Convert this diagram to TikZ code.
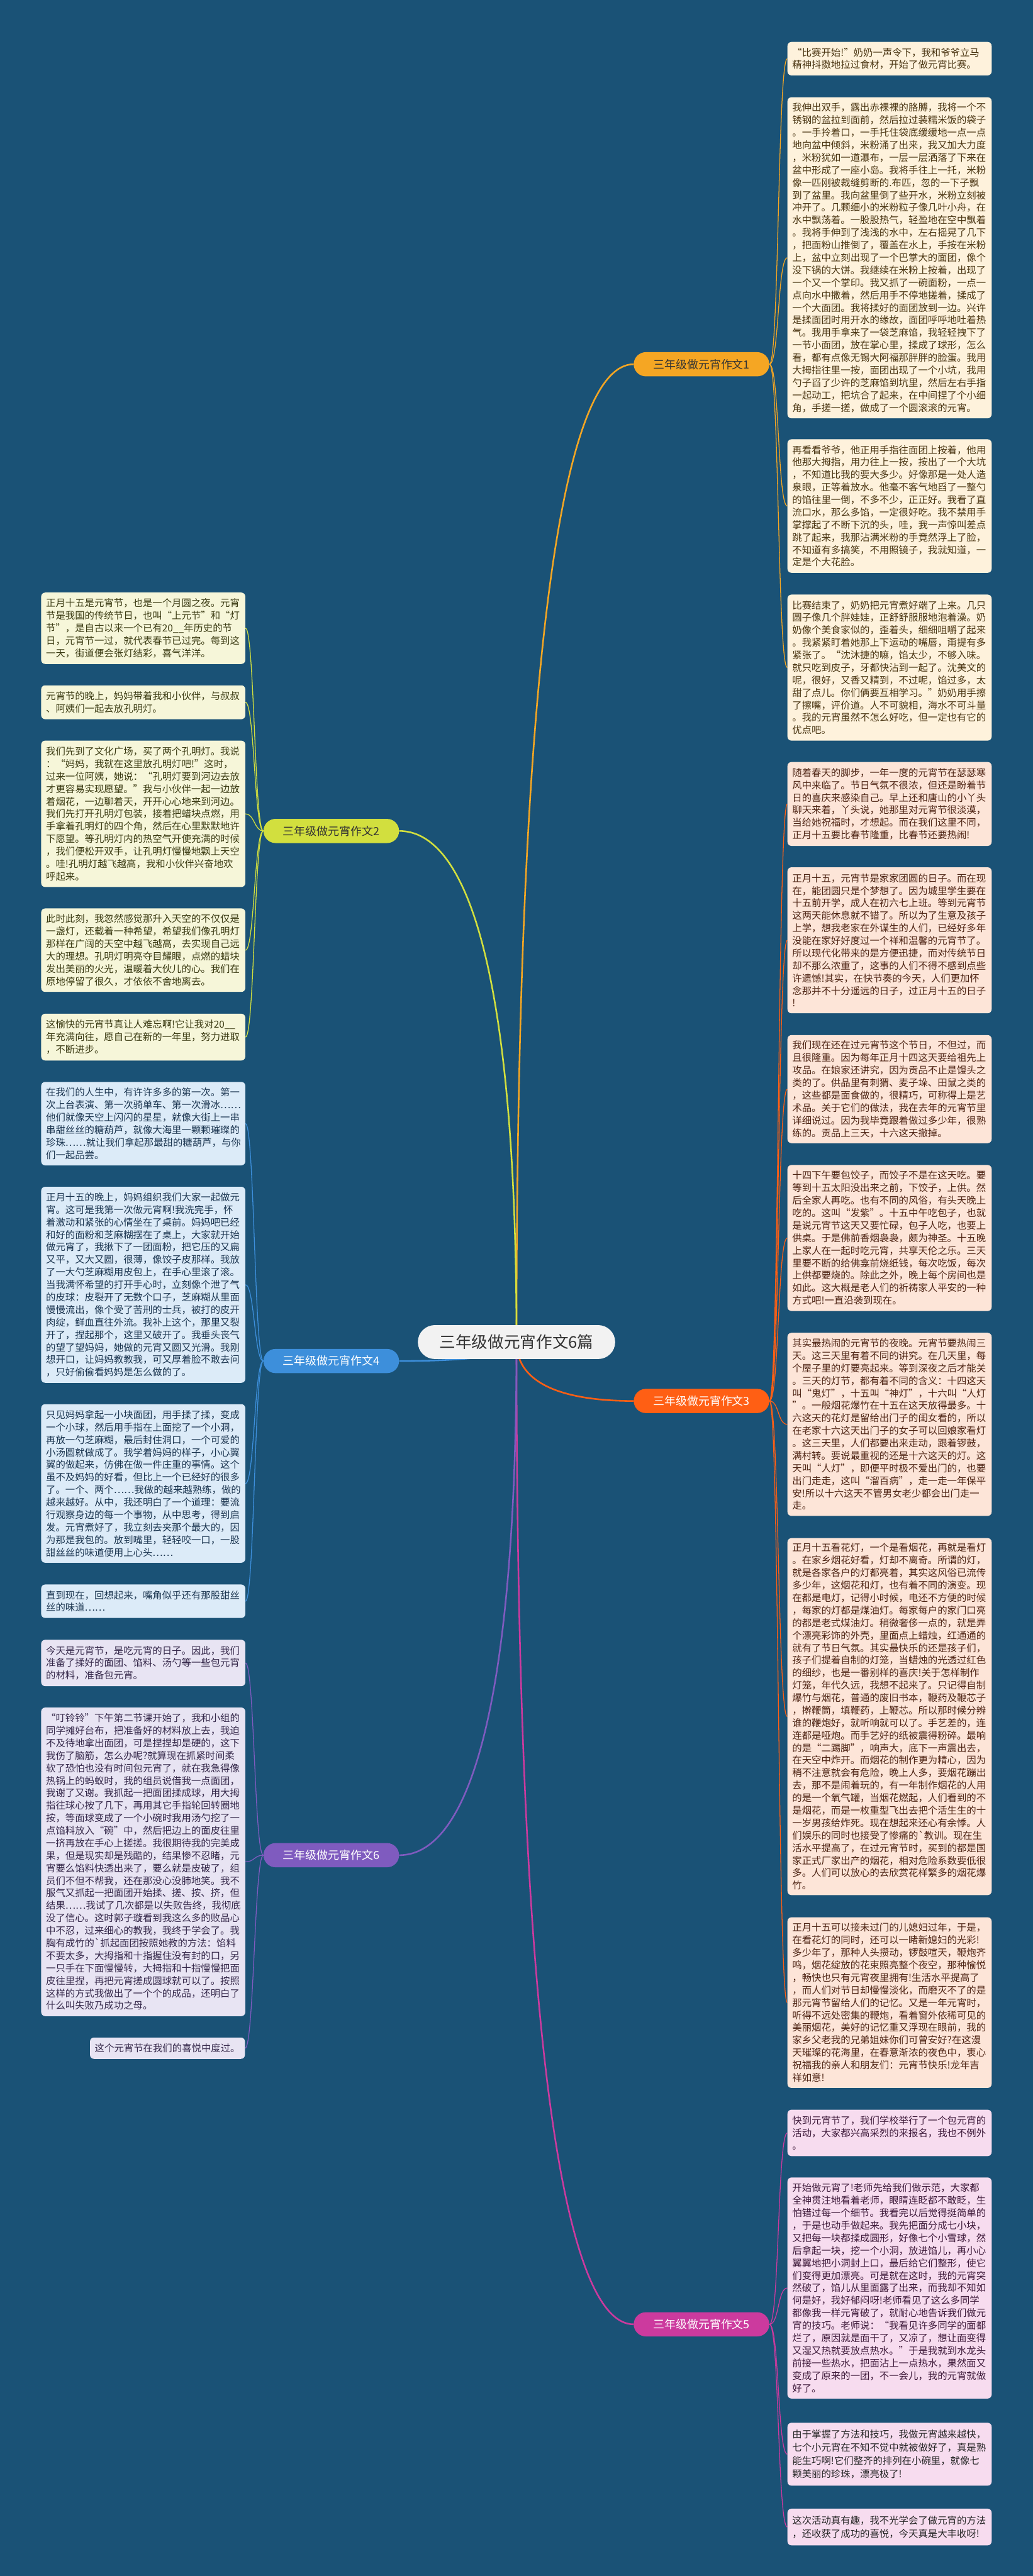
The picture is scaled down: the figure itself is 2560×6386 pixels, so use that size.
\documentclass[tikz,border=0pt]{standalone}
\usepackage{fontspec}
\setmainfont{Noto Sans CJK SC}
\definecolor{bgc}{HTML}{1A5276}
\definecolor{cA}{HTML}{F5A623}
\definecolor{cB}{HTML}{FF5F14}
\definecolor{cC}{HTML}{CC3A9E}
\definecolor{cD}{HTML}{D2DF3E}
\definecolor{cE}{HTML}{3D8FDB}
\definecolor{cF}{HTML}{7F5BBF}
\definecolor{fA}{HTML}{FEF2DC}
\definecolor{fB}{HTML}{FDE5D8}
\definecolor{fC}{HTML}{F7DCEF}
\definecolor{fD}{HTML}{F6F6D9}
\definecolor{fE}{HTML}{DCEBF8}
\definecolor{fF}{HTML}{E8E4F3}
\definecolor{tA}{HTML}{4A3512}
\definecolor{tB}{HTML}{4E2414}
\definecolor{tC}{HTML}{3E1A3A}
\definecolor{tD}{HTML}{3A3A12}
\definecolor{tE}{HTML}{1B3550}
\definecolor{tF}{HTML}{35284A}
\pgfdeclarelayer{lines}
\pgfsetlayers{lines,main}
\tikzset{
  tbox/.style={rounded corners=5pt, inner xsep=6pt, inner ysep=0pt, text width=241pt, align=left,
    font=\fontsize{12pt}{15.5pt}\selectfont, anchor=center},
  boxA/.style={tbox, fill=fA, text=tA},
  boxB/.style={tbox, fill=fB, text=tB},
  boxC/.style={tbox, fill=fC, text=tC},
  boxD/.style={tbox, fill=fD, text=tD},
  boxE/.style={tbox, fill=fE, text=tE},
  boxF/.style={tbox, fill=fF, text=tF},
  pill/.style={rounded corners=15pt, minimum width=168pt, minimum height=30pt, inner sep=0pt,
    font=\fontsize{14pt}{14pt}\selectfont},
  mainline/.style={line width=2pt},
  subline/.style={line width=1pt},
}
\begin{document}
\begin{tikzpicture}[x=0.5pt,y=-0.5pt]
\useasboundingbox (0,0) rectangle (2560,6386);
\begin{pgfonlayer}{lines}
\fill[bgc] (0,0) rectangle (2560,6386);
\end{pgfonlayer}

% centre
\coordinate (c0) at (1280,3327);
\node[rounded corners=21pt, fill=white!95!black, text=black!80, minimum width=244.5pt, minimum height=42pt,
  inner sep=0pt, font=\fontsize{20pt}{20pt}\selectfont] (ctr) at (1280,3327) {三年级做元宵作文6篇};

% branch pills
\node[pill, fill=cA, text=black!80] (p1) at (1738.5,903) {三年级做元宵作文1};
\node[pill, fill=cB, text=white] (p3) at (1738.5,3473) {三年级做元宵作文3};
\node[pill, fill=cC, text=white] (p5) at (1738.5,5762) {三年级做元宵作文5};
\node[pill, fill=cD, text=black!80] (p2) at (821,2060) {三年级做元宵作文2};
\node[pill, fill=cE, text=white] (p4) at (821,3374) {三年级做元宵作文4};
\node[pill, fill=cF, text=white] (p6) at (821,4599) {三年级做元宵作文6};

% ---------- 作文1 ----------
\node[boxA, minimum height=41.5pt] (r1) at (2204.5,145.5) {“比赛开始!”奶奶一声令下，我和爷爷立马\\精神抖擞地拉过食材，开始了做元宵比赛。};
\node[boxA, minimum height=398pt] (r2) at (2204.5,639) {我伸出双手，露出赤裸裸的胳膊，我将一个不\\锈钢的盆拉到面前，然后拉过装糯米饭的袋子\\。一手拎着口，一手托住袋底缓缓地一点一点\\地向盆中倾斜，米粉涌了出来，我又加大力度\\，米粉犹如一道瀑布，一层一层洒落了下来在\\盆中形成了一座小岛。我将手往上一托，米粉\\像一匹刚被裁缝剪断的.布匹，忽的一下子飘\\到了盆里。我向盆里倒了些开水，米粉立刻被\\冲开了。几颗细小的米粉粒子像几叶小舟，在\\水中飘荡着。一股股热气，轻盈地在空中飘着\\。我将手伸到了浅浅的水中，左右摇晃了几下\\，把面粉山推倒了，覆盖在水上，手按在米粉\\上，盆中立刻出现了一个巴掌大的面团，像个\\没下锅的大饼。我继续在米粉上按着，出现了\\一个又一个掌印。我又抓了一碗面粉，一点一\\点向水中撒着，然后用手不停地搓着，揉成了\\一个大面团。我将揉好的面团放到一边。兴许\\是揉面团时用开水的缘故，面团呼呼地吐着热\\气。我用手拿来了一袋芝麻馅，我轻轻拽下了\\一节小面团，放在掌心里，揉成了球形，怎么\\看，都有点像无锡大阿福那胖胖的脸蛋。我用\\大拇指往里一按，面团出现了一个小坑，我用\\勺子舀了少许的芝麻馅到坑里，然后左右手指\\一起动工，把坑合了起来，在中间捏了个小细\\角，手搓一搓，做成了一个圆滚滚的元宵。};
\node[boxA, minimum height=165.5pt] (r3) at (2204.5,1254.5) {再看看爷爷，他正用手指往面团上按着，他用\\他那大拇指，用力往上一按，按出了一个大坑\\，不知道比我的要大多少。好像那是一处人造\\泉眼，正等着放水。他毫不客气地舀了一整勺\\的馅往里一倒，不多不少，正正好。我看了直\\流口水，那么多馅，一定很好吃。我不禁用手\\掌撑起了不断下沉的头，哇，我一声惊叫差点\\跳了起来，我那沾满米粉的手竟然浮上了脸，\\不知道有多搞笑，不用照镜子，我就知道，一\\定是个大花脸。};
\node[boxA, minimum height=181pt] (r4) at (2204.5,1655) {比赛结束了，奶奶把元宵煮好端了上来。几只\\圆子像几个胖娃娃，正舒舒服服地泡着澡。奶\\奶像个美食家似的，歪着头，细细咀嚼了起来\\。我紧紧盯着她那上下运动的嘴唇，甭提有多\\紧张了。“沈沐捷的嘛，馅太少，不够入味。\\就只吃到皮子，牙都快沾到一起了。沈美文的\\呢，很好，又香又精到，不过呢，馅过多，太\\甜了点儿。你们俩要互相学习。”奶奶用手擦\\了擦嘴，评价道。人不可貌相，海水不可斗量\\。我的元宵虽然不怎么好吃，但一定也有它的\\优点吧。};

% ---------- 作文3 ----------
\node[boxB, minimum height=104pt] (r5) at (2204.5,1993) {随着春天的脚步，一年一度的元宵节在瑟瑟寒\\风中来临了。节日气氛不很浓，但还是盼着节\\日的喜庆来感染自己。早上还和唐山的小丫头\\聊天来着，丫头说，她那里对元宵节很淡漠，\\当给她祝福时，才想起。而在我们这里不同，\\正月十五要比春节隆重，比春节还要热闹!};
\node[boxB, minimum height=181pt] (r6) at (2204.5,2331) {正月十五，元宵节是家家团圆的日子。而在现\\在，能团圆只是个梦想了。因为城里学生要在\\十五前开学，成人在初六七上班。等到元宵节\\这两天能休息就不错了。所以为了生意及孩子\\上学，想我老家在外谋生的人们，已经好多年\\没能在家好好度过一个祥和温馨的元宵节了。\\所以现代化带来的是方便迅捷，而对传统节日\\却不那么浓重了，这事的人们不得不感到点些\\许遗憾!其实，在快节奏的今天，人们更加怀\\念那并不十分遥远的日子，过正月十五的日子\\!};
\node[boxB, minimum height=134pt] (r7) at (2204.5,2700) {我们现在还在过元宵节这个节日，不但过，而\\且很隆重。因为每年正月十四这天要给祖先上\\攻品。在娘家还讲究，因为贡品不止是馒头之\\类的了。供品里有刺猬、麦子垛、田鼠之类的\\，这些都是面食做的，很精巧，可称得上是艺\\术品。关于它们的做法，我在去年的元宵节里\\详细说过。因为我毕竟跟着做过多少年，很熟\\练的。贡品上三天，十六这天撤掉。};
\node[boxB, minimum height=181pt] (r8) at (2204.5,3069) {十四下午要包饺子，而饺子不是在这天吃。要\\等到十五太阳没出来之前，下饺子，上供。然\\后全家人再吃。也有不同的风俗，有头天晚上\\吃的。这叫“发紫”。十五中午吃包子，也就\\是说元宵节这天又要忙碌，包子人吃，也要上\\供桌。于是佛前香烟袅袅，颇为神圣。十五晚\\上家人在一起时吃元宵，共享天伦之乐。三天\\里要不断的给佛龛前烧纸钱，每次吃饭，每次\\上供都要烧的。除此之外，晚上每个房间也是\\如此。这大概是老人们的祈祷家人平安的一种\\方式吧!一直沿袭到现在。};
\node[boxB, minimum height=227pt] (r9) at (2204.5,3531) {其实最热闹的元宵节的夜晚。元宵节要热闹三\\天。这三天里有着不同的讲究。在几天里，每\\个屋子里的灯要亮起来。等到深夜之后才能关\\。三天的灯节，都有着不同的含义：十四这天\\叫“鬼灯”，十五叫“神灯”，十六叫“人灯\\”。一般烟花爆竹在十五在这天放得最多。十\\六这天的花灯是留给出门子的闺女看的，所以\\在老家十六这天出门子的女子可以回娘家看灯\\。这三天里，人们都要出来走动，跟着锣鼓，\\满村转。要说最重视的还是十六这天的灯。这\\天叫“人灯”，即便平时极不爱出门的，也要\\出门走走，这叫“溜百病”，走一走一年保平\\安!所以十六这天不管男女老少都会出门走一\\走。};
\node[boxB, minimum height=442.5pt] (r10) at (2204.5,4255.5) {正月十五看花灯，一个是看烟花，再就是看灯\\。在家乡烟花好看，灯却不离奇。所谓的灯，\\就是各家各户的灯都亮着，其实这风俗已流传\\多少年，这烟花和灯，也有着不同的演变。现\\在都是电灯，记得小时候，电还不方便的时候\\，每家的灯都是煤油灯。每家每户的家门口亮\\的都是老式煤油灯。稍微奢侈一点的，就是弄\\个漂亮彩饰的外壳，里面点上蜡烛，红通通的\\就有了节日气氛。其实最快乐的还是孩子们，\\孩子们提着自制的灯笼，当蜡烛的光透过红色\\的细纱，也是一番别样的喜庆!关于怎样制作\\灯笼，年代久远，我想不起来了。只记得自制\\爆竹与烟花，普通的废旧书本，鞭药及鞭芯子\\，擀鞭筒，填鞭药，上鞭芯。所以那时候分辨\\谁的鞭炮好，就听响就可以了。手艺差的，连\\连都是哑炮。而手艺好的纸被震得粉碎。最响\\的是“二踢脚”，响声大，底下一声震出去，\\在天空中炸开。而烟花的制作更为精心，因为\\稍不注意就会有危险，晚上人多，要烟花蹦出\\去，那不是闹着玩的，有一年制作烟花的人用\\的是一个氧气罐，当烟花燃起，人们看到的不\\是烟花，而是一枚重型飞出去把个活生生的十\\一岁男孩给炸死。现在想起来还心有余悸。人\\们娱乐的同时也接受了惨痛的\textasciigrave 教训。现在生\\活水平提高了，在过元宵节时，买到的都是国\\家正式厂家出产的烟花，相对危险系数要低很\\多。人们可以放心的去欣赏花样繁多的烟花爆\\竹。};
\node[boxB, minimum height=211.5pt] (r11) at (2204.5,4964.5) {正月十五可以接未过门的儿媳妇过年，于是，\\在看花灯的同时，还可以一睹新媳妇的光彩!\\多少年了，那种人头攒动，锣鼓喧天，鞭炮齐\\鸣，烟花绽放的花束照亮整个夜空，那种愉悦\\，畅快也只有元宵夜里拥有!生活水平提高了\\，而人们对节日却慢慢淡化，而磨灭不了的是\\那元宵节留给人们的记忆。又是一年元宵时，\\听得不远处密集的鞭炮，看着窗外依稀可见的\\美丽烟花，美好的记忆重又浮现在眼前，我的\\家乡父老我的兄弟姐妹你们可曾安好?在这漫\\天璀璨的花海里，在春意渐浓的夜色中，衷心\\祝福我的亲人和朋友们：元宵节快乐!龙年吉\\祥如意!};

% ---------- 作文5 ----------
\node[boxC, minimum height=57.5pt] (r12) at (2204.5,5287.5) {快到元宵节了，我们学校举行了一个包元宵的\\活动，大家都兴高采烈的来报名，我也不例外\\。};
\node[boxC, minimum height=274pt] (r13) at (2204.5,5672) {开始做元宵了!老师先给我们做示范，大家都\\全神贯注地看着老师，眼睛连眨都不敢眨，生\\怕错过每一个细节。我看完以后觉得挺简单的\\，于是也动手做起来。我先把面分成七小块，\\又把每一块都揉成圆形，好像七个小雪球，然\\后拿起一块，挖一个小洞，放进馅儿，再小心\\翼翼地把小洞封上口，最后给它们整形，使它\\们变得更加漂亮。可是就在这时，我的元宵突\\然破了，馅儿从里面露了出来，而我却不知如\\何是好，我好郁闷呀!老师看见了这么多同学\\都像我一样元宵破了，就耐心地告诉我们做元\\宵的技巧。老师说：“我看见许多同学的面都\\烂了，原因就是面干了，又凉了，想让面变得\\又湿又热就要放点热水。”于是我就到水龙头\\前接一些热水，把面沾上一点热水，果然面又\\变成了原来的一团，不一会儿，我的元宵就做\\好了。};
\node[boxC, text=black!85, font=\fontsize{12pt}{16.5pt}\selectfont, minimum height=78pt] (r14) at (2204.5,6084) {由于掌握了方法和技巧，我做元宵越来越快，\\七个小元宵在不知不觉中就被做好了，真是熟\\能生巧啊!它们整齐的排列在小碗里，就像七\\颗美丽的珍珠，漂亮极了!};
\node[boxC, text=black!85, font=\fontsize{12pt}{16.5pt}\selectfont, minimum height=45.5pt] (r15) at (2204.5,6264.5) {这次活动真有趣，我不光学会了做元宵的方法\\，还收获了成功的喜悦，今天真是大丰收呀!};

% ---------- 作文2 ----------
\node[boxD, minimum height=88.5pt] (l1) at (355,1557.5) {正月十五是元宵节，也是一个月圆之夜。元宵\\节是我国的传统节日，也叫“上元节”和“灯\\节”，是自古以来一个已有20\_\_年历史的节\\日，元宵节一过，就代表春节已过完。每到这\\一天，街道便会张灯结彩，喜气洋洋。};
\node[boxD, minimum height=42pt] (l2) at (355,1741) {元宵节的晚上，妈妈带着我和小伙伴，与叔叔\\、阿姨们一起去放孔明灯。};
\node[boxD, minimum height=181.5pt] (l3) at (355,2017.5) {我们先到了文化广场，买了两个孔明灯。我说\\：“妈妈，我就在这里放孔明灯吧!”这时，\\过来一位阿姨，她说：“孔明灯要到河边去放\\才更容易实现愿望。”我与小伙伴一起一边放\\着烟花，一边聊着天，开开心心地来到河边。\\我们先打开孔明灯包装，接着把蜡块点燃，用\\手拿着孔明灯的四个角，然后在心里默默地许\\下愿望。等孔明灯内的热空气开使充满的时候\\，我们便松开双手，让孔明灯慢慢地飘上天空\\。哇!孔明灯越飞越高，我和小伙伴兴奋地欢\\呼起来。};
\node[boxD, minimum height=103.5pt] (l4) at (355,2355.5) {此时此刻，我忽然感觉那升入天空的不仅仅是\\一盏灯，还载着一种希望，希望我们像孔明灯\\那样在广阔的天空中越飞越高，去实现自己远\\大的理想。孔明灯明亮夺目耀眼，点燃的蜡块\\发出美丽的火光，温暖着大伙儿的心。我们在\\原地停留了很久，才依依不舍地离去。};
\node[boxD, minimum height=58pt] (l5) at (355,2571) {这愉快的元宵节真让人难忘啊!它让我对20\_\_\\年充满向往，愿自己在新的一年里，努力进取\\，不断进步。};

% ---------- 作文4 ----------
\node[boxE, minimum height=103.5pt] (l6) at (355,2785.5) {在我们的人生中，有许许多多的第一次。第一\\次上台表演、第一次骑单车、第一次滑冰……\\他们就像天空上闪闪的星星，就像大街上一串\\串甜丝丝的糖葫芦，就像大海里一颗颗璀璨的\\珍珠……就让我们拿起那最甜的糖葫芦，与你\\们一起品尝。};
\node[boxE, minimum height=243pt] (l7) at (355,3185) {正月十五的晚上，妈妈组织我们大家一起做元\\宵。这可是我第一次做元宵啊!我洗完手，怀\\着激动和紧张的心情坐在了桌前。妈妈吧已经\\和好的面粉和芝麻糊摆在了桌上，大家就开始\\做元宵了，我揪下了一团面粉，把它压的又扁\\又平，又大又圆，很薄，像饺子皮那样。我放\\了一大勺芝麻糊用皮包上，在手心里滚了滚。\\当我满怀希望的打开手心时，立刻像个泄了气\\的皮球：皮裂开了无数个口子，芝麻糊从里面\\慢慢流出，像个受了苦刑的士兵，被打的皮开\\肉绽，鲜血直往外流。我补上这个，那里又裂\\开了，捏起那个，这里又破开了。我垂头丧气\\的望了望妈妈，她做的元宵又圆又光滑。我刚\\想开口，让妈妈教教我，可又厚着脸不敢去问\\，只好偷偷看妈妈是怎么做的了。};
\node[boxE, minimum height=196.5pt] (l8) at (355,3677.5) {只见妈妈拿起一小块面团，用手揉了揉，变成\\一个小球，然后用手指在上面挖了一个小洞，\\再放一勺芝麻糊，最后封住洞口，一个可爱的\\小汤圆就做成了。我学着妈妈的样子，小心翼\\翼的做起来，仿佛在做一件庄重的事情。这个\\虽不及妈妈的好看，但比上一个已经好的很多\\了。一个、两个……我做的越来越熟练，做的\\越来越好。从中，我还明白了一个道理：要流\\行观察身边的每一个事物，从中思考，得到启\\发。元宵煮好了，我立刻去夹那个最大的，因\\为那是我包的。放到嘴里，轻轻咬一口，一股\\甜丝丝的味道便用上心头……};
\node[boxE, minimum height=41.5pt] (l9) at (355,3969.5) {直到现在，回想起来，嘴角似乎还有那股甜丝\\丝的味道……};

% ---------- 作文6 ----------
\node[boxF, minimum height=57.5pt] (l10) at (355,4122.5) {今天是元宵节，是吃元宵的日子。因此，我们\\准备了揉好的面团、馅料、汤勺等一些包元宵\\的材料，准备包元宵。};
\node[boxF, minimum height=382.5pt] (l11) at (355,4615.5) {“叮铃铃”下午第二节课开始了，我和小组的\\同学摊好台布，把准备好的材料放上去，我迫\\不及待地拿出面团，可是捏捏却是硬的，这下\\我伤了脑筋，怎么办呢?就算现在抓紧时间柔\\软了恐怕也没有时间包元宵了，就在我急得像\\热锅上的蚂蚁时，我的组员说借我一点面团，\\我谢了又谢。我抓起一把面团揉成球，用大拇\\指往球心按了几下，再用其它手指轮回转圈地\\按，等面球变成了一个小碗时我用汤勺挖了一\\点馅料放入“碗”中，然后把边上的面皮往里\\一挤再放在手心上搓搓。我很期待我的完美成\\果，但是现实却是残酷的，结果惨不忍睹，元\\宵要么馅料快透出来了，要么就是皮破了，组\\员们不但不帮我，还在那没心没肺地笑。我不\\服气又抓起一把面团开始揉、搓、按、挤，但\\结果……我试了几次都是以失败告终，我彻底\\没了信心。这时郭子璇看到我这么多的败品心\\中不忍，过来细心的教我，我终于学会了。我\\胸有成竹的\textasciigrave 抓起面团按照她教的方法：馅料\\不要太多，大拇指和十指握住没有封的口，另\\一只手在下面慢慢转，大拇指和十指慢慢把面\\皮往里捏，再把元宵搓成圆球就可以了。按照\\这样的方式我做出了一个个的成品，还明白了\\什么叫失败乃成功之母。};
\node[boxF, text width=180pt, minimum height=26.5pt] (l12) at (415,5077.5) {这个元宵节在我们的喜悦中度过。};

% ---------- connectors ----------
\begin{pgfonlayer}{lines}
\draw[mainline, cA] (c0) .. controls +(0,-1818) and +(-160,0) .. (p1.west);
\draw[mainline, cB] (c0) .. controls +(0,110) and +(-160,0) .. (p3.west);
\draw[mainline, cC] (c0) .. controls +(0,1826) and +(-160,0) .. (p5.west);
\draw[mainline, cD] (c0) .. controls +(0,-950) and +(160,0) .. (p2.east);
\draw[mainline, cE] (c0) .. controls +(0,35) and +(160,0) .. (p4.east);
\draw[mainline, cF] (c0) .. controls +(0,954) and +(160,0) .. (p6.east);
\foreach \b in {r1,r2,r3,r4}
  \draw[subline, cA] (p1.east) .. controls +(24,0) and +(-24,0) .. (\b.west);
\foreach \b in {r5,r6,r7,r8,r9,r10,r11}
  \draw[subline, cB] (p3.east) .. controls +(24,0) and +(-24,0) .. (\b.west);
\foreach \b in {r12,r13,r14,r15}
  \draw[subline, cC] (p5.east) .. controls +(24,0) and +(-24,0) .. (\b.west);
\foreach \b in {l1,l2,l3,l4,l5}
  \draw[subline, cD] (p2.west) .. controls +(-22,0) and +(22,0) .. (\b.east);
\foreach \b in {l6,l7,l8,l9}
  \draw[subline, cE] (p4.west) .. controls +(-22,0) and +(22,0) .. (\b.east);
\foreach \b in {l10,l11,l12}
  \draw[subline, cF] (p6.west) .. controls +(-22,0) and +(22,0) .. (\b.east);
\end{pgfonlayer}
\end{tikzpicture}
\end{document}
